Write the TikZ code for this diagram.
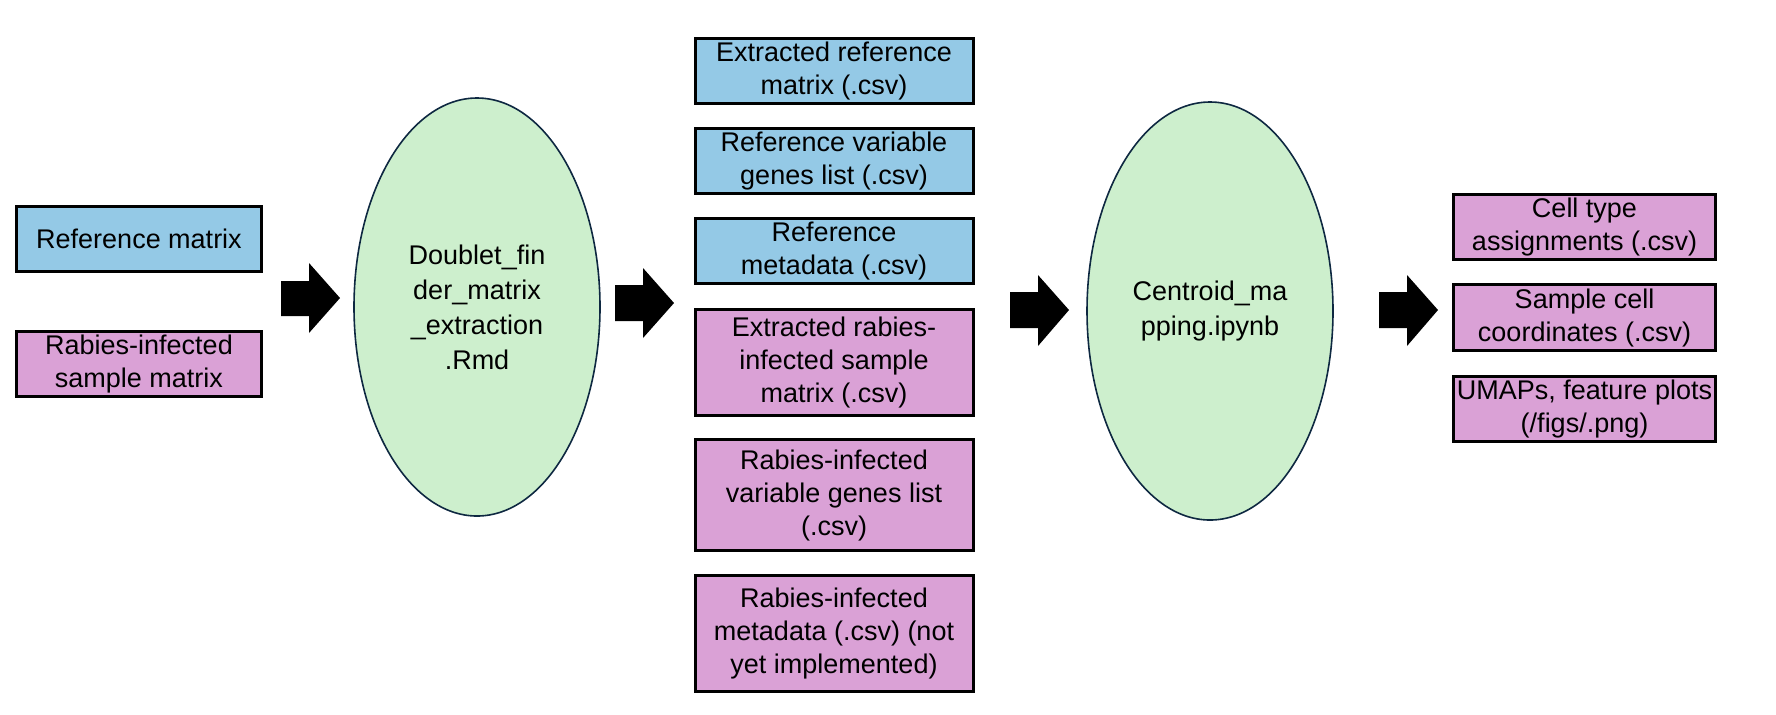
\documentclass[tikz,border=0pt]{standalone}
\usepackage{fontspec}
\setmainfont{Liberation Sans}
\usetikzlibrary{shapes.geometric}
\definecolor{refblue}{RGB}{148,201,230}
\definecolor{rabpink}{RGB}{218,161,214}
\definecolor{procgreen}{RGB}{205,239,205}
\definecolor{ellborder}{RGB}{14,40,65}
\tikzset{
  box/.style={draw=black, line width=1.5pt, rectangle, align=center, inner sep=0pt,
    font=\fontsize{13.5pt}{16.5pt}\selectfont},
  bluebox/.style={box, fill=refblue},
  pinkbox/.style={box, fill=rabpink},
  proc/.style={ellipse, draw=ellborder, line width=0.8pt, fill=procgreen, align=center,
    minimum width=123pt, minimum height=209pt, inner sep=0pt,
    font=\fontsize{13.5pt}{17.5pt}\selectfont},
  blockarrow/.style={fill=black, draw=none}
}
\begin{document}
\begin{tikzpicture}[x=0.5pt, y=-0.5pt]
\useasboundingbox (0,0) rectangle (1776,714);

% inputs
\node[bluebox, minimum width=122.5pt, minimum height=32.5pt] (refm) at (139,239) {Reference matrix};
\node[pinkbox, minimum width=122.5pt, minimum height=32.5pt] (rabm) at (139,364) {Rabies-infected\\sample matrix};

% process 1
\node[proc] (dbl) at (477,307) {Doublet\_fin\\der\_matrix\\\_extraction\\.Rmd};

% middle outputs
\node[bluebox, minimum width=139pt, minimum height=32.5pt] (o1) at (834,71) {Extracted reference\\matrix (.csv)};
\node[bluebox, minimum width=139pt, minimum height=32.5pt] (o2) at (834,161) {Reference variable\\genes list (.csv)};
\node[bluebox, minimum width=139pt, minimum height=32.5pt] (o3) at (834,251) {Reference\\metadata (.csv)};
\node[pinkbox, minimum width=139pt, minimum height=53pt] (o4) at (834,362.5) {Extracted rabies-\\infected sample\\matrix (.csv)};
\node[pinkbox, minimum width=139pt, minimum height=55.5pt] (o5) at (834,495) {Rabies-infected\\variable genes list\\(.csv)};
\node[pinkbox, minimum width=139pt, minimum height=58pt] (o6) at (834,633.5) {Rabies-infected\\metadata (.csv) (not\\yet implemented)};

% process 2
\node[proc] (cen) at (1210,311) {Centroid\_ma\\pping.ipynb};

% final outputs
\node[pinkbox, minimum width=131pt, minimum height=32.5pt] (f1) at (1584.5,227) {Cell type\\assignments (.csv)};
\node[pinkbox, minimum width=131pt, minimum height=33pt] (f2) at (1584.5,317.5) {Sample cell\\coordinates (.csv)};
\node[pinkbox, minimum width=131pt, minimum height=32.5pt] (f3) at (1584.5,409) {UMAPs, feature plots\\(/figs/.png)};

% block arrows
\fill[blockarrow] (281,281) -- (309,281) -- (309,263) -- (340,298) -- (309,333) -- (309,316) -- (281,316) -- cycle;
\fill[blockarrow] (615,285) -- (643,285) -- (643,268) -- (674,303) -- (643,338) -- (643,321) -- (615,321) -- cycle;
\fill[blockarrow] (1010,292) -- (1038,292) -- (1038,275) -- (1069,310) -- (1038,346) -- (1038,328) -- (1010,328) -- cycle;
\fill[blockarrow] (1379,292) -- (1407,292) -- (1407,275) -- (1438,310) -- (1407,346) -- (1407,328) -- (1379,328) -- cycle;
\end{tikzpicture}
\end{document}
